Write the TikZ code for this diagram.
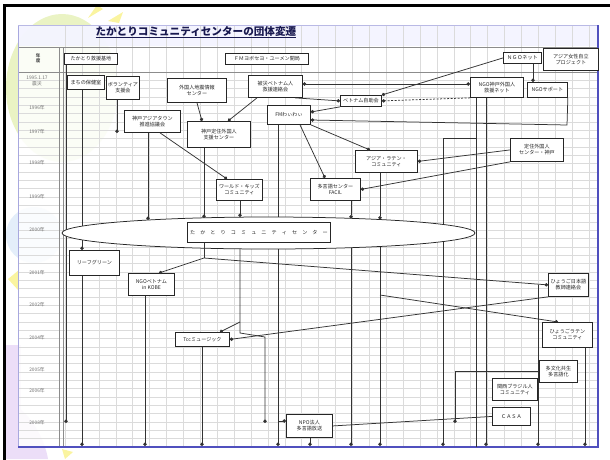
\documentclass[tikz,border=0pt]{standalone}
\usepackage{fontspec}
\newfontfamily\jp{Noto Sans CJK JP}
\usetikzlibrary{arrows.meta,shapes.geometric}
\definecolor{dgreen}{RGB}{234,243,196}
\definecolor{dyellow}{RGB}{250,244,160}
\definecolor{dblue}{RGB}{228,238,250}
\definecolor{dlav}{RGB}{236,222,248}
\definecolor{sheetb}{RGB}{80,80,190}
\definecolor{navy}{RGB}{25,25,80}
\newcommand\bxn[6]{\node[bx,anchor=north west,minimum width={#4-#2},minimum height={#5-#3}] (#1) at (#2,#3) {#6};}
\begin{document}
\begin{tikzpicture}[x=1pt,y=-1pt,
  bx/.style={draw=black!85,line width=0.85pt,fill=white,inner sep=0.3pt,
     font=\jp\fontsize{5.1}{5.9}\selectfont,align=center,text=black!85},
  ln/.style={draw=black!80,line width=0.75pt},
  ar/.style={ln,-{Circle[length=3.4pt,width=3.4pt]}},
  dl/.style={ln,dash pattern=on 2pt off 1.5pt},
  yr/.style={font=\jp\fontsize{4.8}{5.4}\selectfont,text=black!55},
  gridl/.style={draw=black!14,line width=0.35pt}]
\useasboundingbox (0,0) rectangle (610,459);
% decorations
\fill[dgreen] (62,88) ellipse (56 and 74);
\fill[dyellow] (88,18) -- (97,5) -- (103,9) -- cycle;
\fill[dyellow] (108,21) -- (123,12) -- (119,23) -- cycle;
\fill[dblue] (34,235) circle (28);
\fill[dyellow] (8,279) -- (19,270) -- (19,291) -- cycle;
\fill[dlav] (6,345) rectangle (21,459);
\fill[dlav] (6,400) .. controls (30,410) and (45,440) .. (48,459) -- (6,459) -- cycle;
\fill[dyellow] (62,449) -- (73,452) -- (65,459) -- cycle;
% sheet
\fill[white,opacity=0.85] (18,25) rectangle (598,447);
\fill[blue!5,opacity=0.8] (18,25) rectangle (598,46);
\foreach \i in {0,...,45} {\draw[gridl] (18,{72+\i*8.33}) -- (598,{72+\i*8.33});}
\foreach \i in {0,...,31} {\draw[gridl] ({65+\i*16.9},25) -- ({65+\i*16.9},447);}
\draw[black!45,line width=0.9pt] (18,47) -- (598,47);
\draw[black!45,line width=0.9pt] (18,72) -- (598,72);
\draw[black!45,line width=0.6pt] (59,47) -- (59,447);
\draw[black!45,line width=0.6pt] (63,47) -- (63,447);
\draw[sheetb!50,line width=1pt] (18,25) -- (18,447);
\draw[sheetb!40,line width=0.8pt] (18,25) -- (598,25);
\draw[sheetb,line width=1.2pt] (598,25) -- (598,447) -- (18,447);
% frame
\draw[line width=2.6pt] (4.5,470) -- (4.5,5.5) -- (612,5.5);
% title
\node[font=\jp\bfseries\fontsize{10.6}{11}\selectfont,text=navy,anchor=west] (title) at (92,32)
  {\underline{たかとりコミュニティセンターの団体変遷}};
% year labels
\node[font=\jp\bfseries\fontsize{4.5}{5}\selectfont,text=black!70,align=center] (yh) at (38,58) {年\\度};
\node[yr,align=center] (y95) at (37,81) {1995.1.17\\震災};
\node[yr] (y96) at (37,108) {1996年};
\node[yr] (y97) at (37,132) {1997年};
\node[yr] (y98) at (37,163) {1998年};
\node[yr] (y99) at (37,197) {1999年};
\node[yr] (y00) at (37,230) {2000年};
\node[yr] (y01) at (37,273) {2001年};
\node[yr] (y02) at (37,305) {2002年};
\node[yr] (y04) at (37,338) {2004年};
\node[yr] (y05) at (37,370) {2005年};
\node[yr] (y06) at (37,391) {2006年};
\node[yr] (y08) at (37,423) {2008年};
% boxes
\bxn{h1}{64}{53}{117}{64}{たかとり救援基地}
\bxn{h2}{225}{53}{308}{64}{ＦＭヨボセヨ・ユーメン開局}
\bxn{h3}{503}{52}{541}{63}{ＮＧＯネット}
\bxn{h4}{543}{48}{598}{70}{アジア女性自立\\プロジェクト}
\bxn{b1}{67}{75}{104}{89}{まちの保健室}
\bxn{b2}{106}{76}{139}{99}{ボランティア\\支援会}
\bxn{b3}{167}{78}{226}{102}{外国人地震情報\\センター}
\bxn{b4}{248}{75}{302}{97}{被災ベトナム人\\救援連絡会}
\bxn{b5}{470}{77}{523}{97}{NGO神戸外国人\\救援ネット}
\bxn{b6}{527}{82}{567}{97}{NGOサポート}
\bxn{b7}{340}{95}{381}{106}{ベトナム自助会}
\bxn{b8}{267}{105}{310}{124}{FMわぃわぃ}
\bxn{b9}{124}{110}{180}{132}{神戸アジアタウン\\推進協議会}
\bxn{b10}{187}{121}{250}{147}{神戸定住外国人\\支援センター}
\bxn{b11}{355}{150}{417}{172}{アジア・ラテン・\\コミュニティ}
\bxn{b12}{510}{138}{563}{161}{定住外国人\\センター・神戸}
\bxn{b13}{216}{179}{262}{200}{ワールド・キッズ\\コミュニティ}
\bxn{b14}{310}{178}{360}{200}{多言語センター\\FACIL}
% lines under the ellipse
\coordinate (z1) at (66,423);
\coordinate (z2) at (82,446);
\coordinate (z3) at (145,446);
\coordinate (z4) at (202,446);
\coordinate (z5) at (278,446);
\coordinate (z6) at (310,446);
\coordinate (z7) at (351,446);
\coordinate (z8) at (380,446);
\coordinate (z9) at (443,446);
\coordinate (z10) at (486,446);
\coordinate (z11) at (538,446);
\coordinate (z12) at (585,446);
\coordinate (z13) at (265,423);
\coordinate (z14) at (455,423);
\coordinate (z15) at (117,133);
\draw[ar] (66,0 |- h1.south) -- (z1);
\draw[ar] (117,0 |- b2.south) -- (z15);
\draw[ar] (82,0 |- b1.south) -- (82,250);
\draw[ar] (278,0 |- b8.south) -- (z5);
\draw[ar] (240,233) -- (240,333) -- (265,337) -- (z13);
\draw[ar] (351,233) -- (z7);
\draw[ar] (380,233) -- (z8);
\draw[ln] (476,0 |- b5.south) -- (476,447);
\draw[ar] (476,138) -- (443,138) -- (z9);
\draw[ar] (486,0 |- b5.south) -- (z10);
\draw[ar] (538,285) -- (z11);
% upper connectors
\draw[ar] (197,0 |- b3.south) -- (202,0 |- b10.north);
\draw[ar] (257,0 |- b4.south) -- (228,0 |- b10.north);
\draw[{Circle[length=3.4pt,width=3.4pt]}-{Circle[length=3.4pt,width=3.4pt]},ln] (b4.east |- 0,84) -- (b5.west |- 0,84);
\draw[ar] (295,0 |- b4.south) -- (b7.west);
\draw[ar] (h3.west) -- (b7.north east);
\draw[dl,-{Circle[length=3.4pt,width=3.4pt]}] (b5.south west) -- (b7.east);
\draw[ar] (533,0 |- h3.south) -- (533,0 |- b6.north);
\draw[ar] (b6.south east) -- (567,125) -- (b8.east |- 0,120);
\draw[ar] (b7.south west) -- (b8.east |- 0,112);
\draw[ar] (b8.south east) -- (370,0 |- b11.north);
\draw[ar] (300,0 |- b8.south) -- (325,0 |- b14.north);
\draw[ar] (160,0 |- b9.south) -- (227,0 |- b13.north);
\draw[ar] (b12.west) -- (b11.east);
\draw[ar] (b12.south west) -- (b14.east);
\draw[ar] (380,295) -- (558,322);
% ellipse
\node[ellipse,draw=black!85,line width=0.75pt,fill=white,minimum width=413,minimum height=32,inner sep=0] (E) at (268.5,233) {};
\bxn{b15}{187}{222}{330}{242}{た　か　と　り　コ　ミ　ュ　ニ　テ　ィ　セ　ン　タ　ー}
\coordinate (t1) at (148,220);
\coordinate (t2) at (204,218);
\coordinate (t3) at (240,217);
\coordinate (t4) at (351,218.5);
\coordinate (t5) at (380,219.5);
\draw[ar] (148,0 |- b9.south) -- (t1);
\draw[ar] (204,0 |- b10.south) -- (t2);
\draw[ar] (240,0 |- b13.south) -- (t3);
\draw[ar] (351,0 |- b14.south) -- (t4);
\draw[ar] (380,0 |- b11.south) -- (t5);
% lower boxes
\bxn{b16}{69}{250}{119}{275}{リーフグリーン}
\bxn{b17}{128}{273}{174}{295}{NGOベトナム\\in KOBE}
\bxn{b18}{548}{273}{588}{296}{ひょうご日本語\\教師連絡会}
\bxn{b19}{542}{322}{592}{347}{ひょうごラテン\\コミュニティ}
\bxn{b20}{175}{332}{229}{346}{Tccミュージック}
\bxn{b21}{539}{360}{577}{382}{多文化共生\\多言語化}
\bxn{b22}{492}{378}{537}{400}{関西ブラジル人\\コミュニティ}
\bxn{b23}{492}{407}{530}{425}{ＣＡＳＡ}
\bxn{b24}{286}{414}{332}{437}{NPO法人\\多言語放送}
\coordinate (hub) at (204,258);
\draw[ln] (204,0 |- b15.south) -- (hub);
\draw[ar] (hub) -- (159,0 |- b17.north);
\draw[ar] (hub) -- (b18.west);
\draw[ar] (82,0 |- b16.south) -- (z2);
\draw[ar] (145,0 |- b17.south) -- (z3);
\draw[ar] (202,0 |- b20.south) -- (z4);
\draw[ar] (240,322) -- (220,0 |- b20.north);
\draw[ar] (b18.south west) -- (b20.east);
\draw[ar] (585,0 |- b19.south) -- (z12);
\draw[ar] (b21.west) -- (455,0 |- b21.west) -- (z14);
\draw[ln] (b24.east) -- (b23.west);
\draw[ar] (310,0 |- b24.south) -- (z6);
\draw[ar] (278,421) -- (b24.west |- 0,421);
\end{tikzpicture}
\end{document}
